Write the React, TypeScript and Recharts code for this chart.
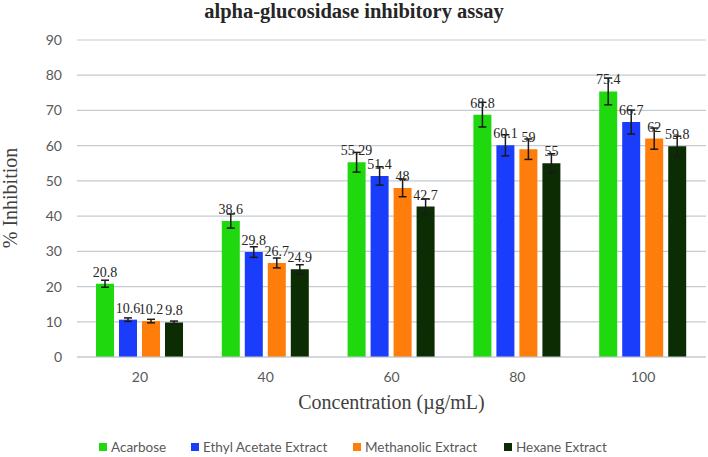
import { BarChart, Bar, XAxis, YAxis, CartesianGrid, ErrorBar, LabelList } from "recharts";

const concentrations = ["20", "40", "60", "80", "100"];
const acarbose = [20.8, 38.6, 55.29, 68.8, 75.4];
const ethylAcetate = [10.6, 29.8, 51.4, 60.1, 66.7];
const methanolic = [10.2, 26.7, 48, 59, 62];
const hexane = [9.8, 24.9, 42.7, 55, 59.8];
const acarboseErr = [1.0, 2.0, 2.8, 3.5, 3.8];
const ethylAcetateErr = [0.5, 1.5, 2.6, 3.0, 3.4];
const methanolicErr = [0.5, 1.4, 2.5, 2.9, 3.0];
const hexaneErr = [0.4, 1.3, 2.2, 2.7, 2.9];
const yTicks = [0, 10, 20, 30, 40, 50, 60, 70, 80, 90];

const series = [
  { key: "acarbose", name: "Acarbose", color: "#1fd80e" },
  { key: "ethyl", name: "Ethyl Acetate Extract", color: "#1a3cfb" },
  { key: "methanolic", name: "Methanolic Extract", color: "#ff7d0a" },
  { key: "hexane", name: "Hexane Extract", color: "#0c2d03" },
];

const data = concentrations.map((c, i) => ({
  conc: c,
  acarbose: acarbose[i],
  ethyl: ethylAcetate[i],
  methanolic: methanolic[i],
  hexane: hexane[i],
  acarboseErr: acarboseErr[i],
  ethylErr: ethylAcetateErr[i],
  methanolicErr: methanolicErr[i],
  hexaneErr: hexaneErr[i],
}));

const serif = "'Liberation Serif', 'Times New Roman', serif";
const sans = "Lato, 'Open Sans', sans-serif";
const gridColor = "#c3ccd0";

// legend: icon x positions taken from the reference layout
const legendLeft = [99, 191, 353, 504];

export default function App() {
  return (
    <div style={{ position: "relative", width: 708, height: 457, background: "#fff" }}>
      <style>{`body{margin:0}`}</style>
      <div
        style={{
          position: "absolute",
          top: 0,
          left: 0,
          width: 708,
          textAlign: "center",
          fontFamily: serif,
          fontWeight: "bold",
          fontSize: 20.5,
          color: "#262626",
        }}
      >
        alpha-glucosidase inhibitory assay
      </div>
      <div
        style={{
          position: "absolute",
          left: 10,
          top: 198,
          transform: "translate(-50%, -50%) rotate(-90deg)",
          fontFamily: serif,
          fontSize: 20,
          color: "#404040",
          whiteSpace: "nowrap",
        }}
      >
        % Inhibition
      </div>
      <div
        style={{
          position: "absolute",
          left: 77,
          width: 629,
          top: 391,
          textAlign: "center",
          fontFamily: serif,
          fontSize: 20,
          color: "#404040",
        }}
      >
        Concentration (µg/mL)
      </div>
      {series.map((s, i) => (
        <div
          key={s.key}
          style={{ position: "absolute", left: legendLeft[i], top: 439, display: "flex", alignItems: "center" }}
        >
          <span style={{ width: 8, height: 8, background: s.color, display: "inline-block", marginRight: 4 }} />
          <span style={{ fontFamily: sans, fontSize: 13.5, color: "#595959", whiteSpace: "nowrap" }}>{s.name}</span>
        </div>
      ))}
      <BarChart
        width={708}
        height={457}
        data={data}
        margin={{ top: 40, right: 2, left: 0, bottom: 70 }}
        barSize={18}
        barGap={5}
      >
        <CartesianGrid horizontal vertical={false} stroke={gridColor} strokeWidth={1.2} />
        <XAxis
          dataKey="conc"
          axisLine={{ stroke: gridColor, strokeWidth: 1.2 }}
          tickLine={false}
          tickMargin={9}
          tick={{ fill: "#595959", fontFamily: sans, fontSize: 14 }}
          height={30}
        />
        <YAxis
          domain={[0, 90]}
          ticks={yTicks}
          width={77}
          axisLine={false}
          tickLine={false}
          tickMargin={9}
          tick={{ fill: "#595959", fontFamily: sans, fontSize: 14 }}
          interval={0}
        />
        {series.map((s) => (
          <Bar key={s.key} dataKey={s.key} name={s.name} fill={s.color} isAnimationActive={false}>
            <ErrorBar dataKey={`${s.key}Err`} width={4} stroke="#1a1a1a" strokeWidth={1.5} direction="y" />
            <LabelList
              dataKey={s.key}
              position="top"
              offset={7}
              fill="#262626"
              fontFamily={serif}
              fontSize={14}
            />
          </Bar>
        ))}
      </BarChart>
    </div>
  );
}
